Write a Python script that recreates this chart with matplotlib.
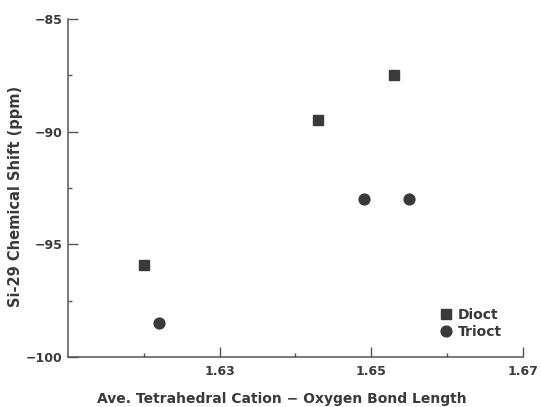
import matplotlib
matplotlib.use("Agg")
import matplotlib.pyplot as plt
from matplotlib.ticker import FixedLocator

dioct_x = [1.620, 1.643, 1.653]
dioct_y = [-95.9, -89.5, -87.5]
trioct_x = [1.622, 1.649, 1.655]
trioct_y = [-98.5, -93.0, -93.0]
xticks = [1.63, 1.65, 1.67]
xtick_labels = ["1.63", "1.65", "1.67"]
yticks = [-100, -95, -90, -85]
ytick_labels = ["\u2212100", "\u221295", "\u221290", "\u221285"]

plt.rcParams['font.family'] = ['DejaVu Sans']
plt.rcParams['font.weight'] = 'bold'
ink = "#3a3a3a"
fig = plt.figure(figsize=(5.41, 4.07), dpi=100)
ax = fig.add_axes([0.1257, 0.1229, 0.9667 - 0.1257, 0.9533 - 0.1229])

ax.plot(dioct_x, dioct_y, linestyle='none', marker='s', markersize=7.5,
        color=ink, label='Dioct')
ax.plot(trioct_x, trioct_y, linestyle='none', marker='o', markersize=7.8,
        color=ink, label='Trioct')

ax.set_xlim(1.61, 1.67)
ax.set_ylim(-100, -85)
ax.set_xticks(xticks)
ax.set_xticklabels(xtick_labels)
ax.set_yticks(yticks)
ax.set_yticklabels(ytick_labels)
ax.xaxis.set_minor_locator(FixedLocator([1.62, 1.64, 1.66]))
ax.yaxis.set_minor_locator(FixedLocator([-97.5, -92.5, -87.5]))

for s in ['top', 'right']:
    ax.spines[s].set_visible(False)
for s in ['left', 'bottom']:
    ax.spines[s].set_color("#555555")
    ax.spines[s].set_linewidth(1.1)

ax.tick_params(axis='both', which='major', direction='in', length=7, width=1,
               color="#555555", labelsize=9, labelcolor=ink, pad=4)
ax.tick_params(axis='both', which='minor', direction='in', length=3, width=1,
               color="#555555")
ax.tick_params(axis='x', which='major', pad=6)

ax.set_xlabel('Ave. Tetrahedral Cation \u2212 Oxygen Bond Length', fontsize=10,
              color=ink, fontweight='bold')
ax.set_ylabel('Si-29 Chemical Shift (ppm)', fontsize=10.5, color=ink,
              fontweight='bold')
ax.xaxis.set_label_coords(0.47, -0.105)
ax.yaxis.set_label_coords(-0.099, 0.476)

leg = ax.legend(loc='lower right', bbox_to_anchor=(0.965, 0.036), frameon=False,
                prop={'size': 10, 'weight': 'bold'}, handlelength=0.8,
                handletextpad=0.4, labelspacing=0.25, borderaxespad=0)
for t in leg.get_texts():
    t.set_color(ink)

fig.savefig('out.png', dpi=100)
